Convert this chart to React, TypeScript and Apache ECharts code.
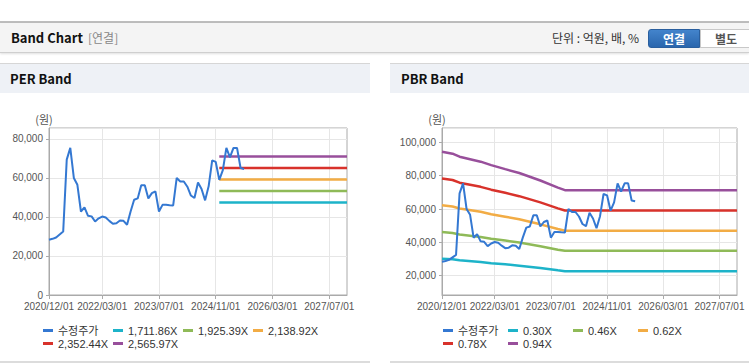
import React, { useEffect, useRef } from "react";
import * as echarts from "echarts";

const FONT = '"Liberation Sans", "Noto Sans CJK KR", sans-serif';
const KFONT = '"Noto Sans CJK KR", "Liberation Sans", sans-serif';

// monthly categories 2020/12/01 .. 2027/12/01
const categories: string[] = (() => {
  const out: string[] = [];
  let y = 2020;
  let m = 12;
  for (let i = 0; i < 85; i++) {
    out.push(`${y}/${String(m).padStart(2, "0")}/01`);
    m++;
    if (m > 12) { m = 1; y++; }
  }
  return out;
})();

const tickIndices = [0, 15, 31, 47, 63, 79];

// 수정주가 (monthly, 2020/12 .. 2025/07)
const price = [
  28300, 28800, 29500, 31000, 32500, 69400, 75400, 60000, 56500, 42800,
  44900, 40600, 40300, 37700, 39300, 40200, 39700, 38000, 36500, 36800,
  38200, 38000, 36000, 42800, 48800, 49500, 56200, 56200, 49500, 52200,
  53100, 42800, 46200, 46200, 46000, 45900, 60000, 58200, 58200, 55500,
  51000, 49700, 57700, 54300, 48500, 55700, 69000, 68200, 59000, 64000,
  75400, 70500, 75400, 75400, 65100, 64600,
];

// PER band
const perNames = ["1,711.86X", "1,925.39X", "2,138.92X", "2,352.44X", "2,565.97X"];
const perLevels = [47400, 53310, 59230, 65140, 71050];
const perStart = 48;
const perEnd = 84;

// PBR band (vertices at month index)
const pbrNames = ["0.30X", "0.46X", "0.62X", "0.78X", "0.94X"];
const pbrMonths = [0, 3, 5, 11, 14, 18, 22, 28, 33, 35, 84];
const pbr030 = [30100, 29800, 29200, 28200, 27500, 26800, 26000, 24600, 23200, 22700, 22700];
const pbr046 = [46200, 45600, 44700, 43200, 42200, 41100, 39900, 37700, 35600, 34900, 34900];
const pbr062 = [62200, 61500, 60300, 58300, 56900, 55400, 53800, 50800, 48000, 47000, 47000];
const pbr078 = [78300, 77400, 75800, 73300, 71600, 69700, 67700, 64000, 60400, 59100, 59100];
const pbr094 = [94400, 93200, 91400, 88400, 86300, 83900, 81600, 77100, 72800, 71300, 71300];

const bandColors = ["#1db3c9", "#8fba58", "#f2ac45", "#d8322b", "#984f9b"];
const priceColor = "#3478d2";

const isTick = (i: number) => tickIndices.indexOf(i) >= 0;

function buildOption(opts: {
  gridLeft: number;
  gridRight: number;
  yMin: number;
  yMax: number;
  bands: { name: string; data: number[][] }[];
  legendLeft: number;
  legendTextWidth: number;
  legendWidth: number;
}) {
  const series: any[] = opts.bands.map((b, i) => ({
    name: b.name,
    type: "line",
    data: b.data,
    showSymbol: false,
    symbol: "none",
    lineStyle: { color: bandColors[i], width: 2.5 },
    itemStyle: { color: bandColors[i] },
  }));
  series.push({
    name: "수정주가",
    type: "line",
    data: price,
    showSymbol: false,
    symbol: "none",
    lineStyle: { color: priceColor, width: 2 },
    itemStyle: { color: priceColor },
  });
  return {
    animation: false,
    textStyle: { fontFamily: FONT },
    grid: {
      left: opts.gridLeft,
      right: opts.gridRight,
      top: 35,
      bottom: 67,
      show: true,
      borderColor: "#aaaaaa",
      borderWidth: 1,
      backgroundColor: "transparent",
    },
    legend: {
      data: ["수정주가", ...opts.bands.map((b) => b.name)],
      left: opts.legendLeft,
      top: 231,
      width: opts.legendWidth,
      padding: 0,
      itemGap: 0,
      itemWidth: 10,
      itemHeight: 3,
      icon: "rect",
      textStyle: {
        fontFamily: FONT,
        fontSize: 11,
        color: "#333",
        width: opts.legendTextWidth,
        lineHeight: 13,
      },
    },
    xAxis: {
      type: "category",
      data: categories,
      boundaryGap: false,
      axisLine: { lineStyle: { color: "#aaaaaa" } },
      axisTick: { show: true, interval: (i: number) => isTick(i), length: 4, lineStyle: { color: "#aaaaaa" } },
      axisLabel: {
        interval: (i: number) => isTick(i),
        color: "#555",
        fontSize: 10,
        margin: 6,
        fontFamily: FONT,
      },
      splitLine: { show: true, interval: (i: number) => isTick(i), lineStyle: { color: "#e6e6e6" } },
    },
    yAxis: {
      type: "value",
      min: opts.yMin,
      max: opts.yMax,
      splitNumber: 5,
      name: "(원)",
      nameLocation: "end",
      nameGap: 4,
      nameTextStyle: { color: "#555", fontSize: 11, fontFamily: KFONT, padding: [0, 10, 0, 0] },
      axisLine: { show: true, lineStyle: { color: "#aaaaaa" } },
      axisTick: { show: true, length: 3, lineStyle: { color: "#aaaaaa" } },
      axisLabel: {
        color: "#555",
        fontSize: 10,
        margin: 6,
        fontFamily: FONT,
        showMinLabel: opts.yMin === 0,
        showMaxLabel: false,
        formatter: (v: number) => v.toLocaleString("en-US"),
      },
      splitLine: { show: true, lineStyle: { color: "#e6e6e6" } },
    },
    series,
  };
}

function Chart({ option, style }: { option: any; style: React.CSSProperties }) {
  const ref = useRef<HTMLDivElement>(null);
  useEffect(() => {
    if (!ref.current) return;
    const chart = echarts.init(ref.current, undefined, { renderer: "svg" });
    chart.setOption(option);
    return () => chart.dispose();
  }, [option]);
  return <div ref={ref} style={style} />;
}

const perOption = buildOption({
  gridLeft: 49,
  gridRight: 23,
  yMin: 0,
  yMax: 85600,
  bands: perNames.map((n, i) => ({
    name: n,
    data: [
      [perStart, perLevels[i]],
      [perEnd, perLevels[i]],
    ],
  })),
  legendLeft: 43,
  legendTextWidth: 55,
  legendWidth: 285,
});

const pbrSeries = [pbr030, pbr046, pbr062, pbr078, pbr094];
const pbrOption = buildOption({
  gridLeft: 52,
  gridRight: 12,
  yMin: 8400,
  yMax: 108600,
  bands: pbrNames.map((n, i) => ({
    name: n,
    data: pbrMonths.map((m, k) => [m, pbrSeries[i][k]]),
  })),
  legendLeft: 53,
  legendTextWidth: 50,
  legendWidth: 265,
});

export default function App() {
  return (
    <div
      style={{
        position: "absolute",
        left: 0,
        top: 0,
        width: 749,
        height: 364,
        overflow: "hidden",
        background: "#fff",
        fontFamily: KFONT,
      }}
    >
      {/* header */}
      <div style={{ position: "absolute", left: 0, top: 21, width: 749, height: 2, background: "#bdbdbd" }} />
      <div
        style={{
          position: "absolute",
          left: 0,
          top: 23,
          width: 749,
          height: 29,
          background: "#f4f4f4",
          borderBottom: "1px solid #cfcfcf",
          boxShadow: "0 1px 2px rgba(0,0,0,0.12)",
        }}
      />
      <div style={{ position: "absolute", left: 11, top: 28, height: 20, lineHeight: "20px", fontSize: 13, fontWeight: 700, color: "#111" }}>
        Band Chart
      </div>
      <div style={{ position: "absolute", left: 88, top: 28, height: 20, lineHeight: "20px", fontSize: 12, color: "#888" }}>
        [연결]
      </div>
      <div style={{ position: "absolute", left: 552, top: 28, height: 20, lineHeight: "20px", fontSize: 12, color: "#333" }}>
        단위 : 억원, 배, %
      </div>
      <div
        style={{
          position: "absolute",
          left: 648,
          top: 29,
          width: 52,
          height: 19,
          boxSizing: "border-box",
          background: "linear-gradient(#4384cc, #2a66ad)",
          border: "1px solid #2a5f9e",
          borderRadius: "3px 0 0 3px",
          color: "#fff",
          fontSize: 12,
          fontWeight: 700,
          textAlign: "center",
          lineHeight: "17px",
        }}
      >
        연결
      </div>
      <div
        style={{
          position: "absolute",
          left: 700,
          top: 29,
          width: 52,
          height: 19,
          boxSizing: "border-box",
          background: "#fff",
          border: "1px solid #c8c8c8",
          color: "#555",
          fontSize: 12,
          fontWeight: 700,
          textAlign: "center",
          lineHeight: "17px",
        }}
      >
        별도
      </div>

      {/* panel title bars */}
      <div style={{ position: "absolute", left: 0, top: 63, width: 370, height: 30, background: "#eef1f6", borderTop: "1px solid #d6d6d6", boxSizing: "border-box" }} />
      <div style={{ position: "absolute", left: 390, top: 63, width: 359, height: 30, background: "#eef1f6", borderTop: "1px solid #d6d6d6", boxSizing: "border-box" }} />
      <div style={{ position: "absolute", left: 10, top: 68, height: 22, lineHeight: "22px", fontSize: 13, fontWeight: 700, color: "#111" }}>
        PER Band
      </div>
      <div style={{ position: "absolute", left: 401, top: 68, height: 22, lineHeight: "22px", fontSize: 13, fontWeight: 700, color: "#111" }}>
        PBR Band
      </div>

      {/* charts */}
      <Chart option={perOption} style={{ position: "absolute", left: 0, top: 93, width: 370, height: 269 }} />
      <Chart option={pbrOption} style={{ position: "absolute", left: 390, top: 93, width: 359, height: 269 }} />

      {/* panel bottom lines */}
      <div style={{ position: "absolute", left: 0, top: 361, width: 370, height: 2, background: "#dcdcdc" }} />
      <div style={{ position: "absolute", left: 390, top: 361, width: 359, height: 2, background: "#dcdcdc" }} />
    </div>
  );
}
